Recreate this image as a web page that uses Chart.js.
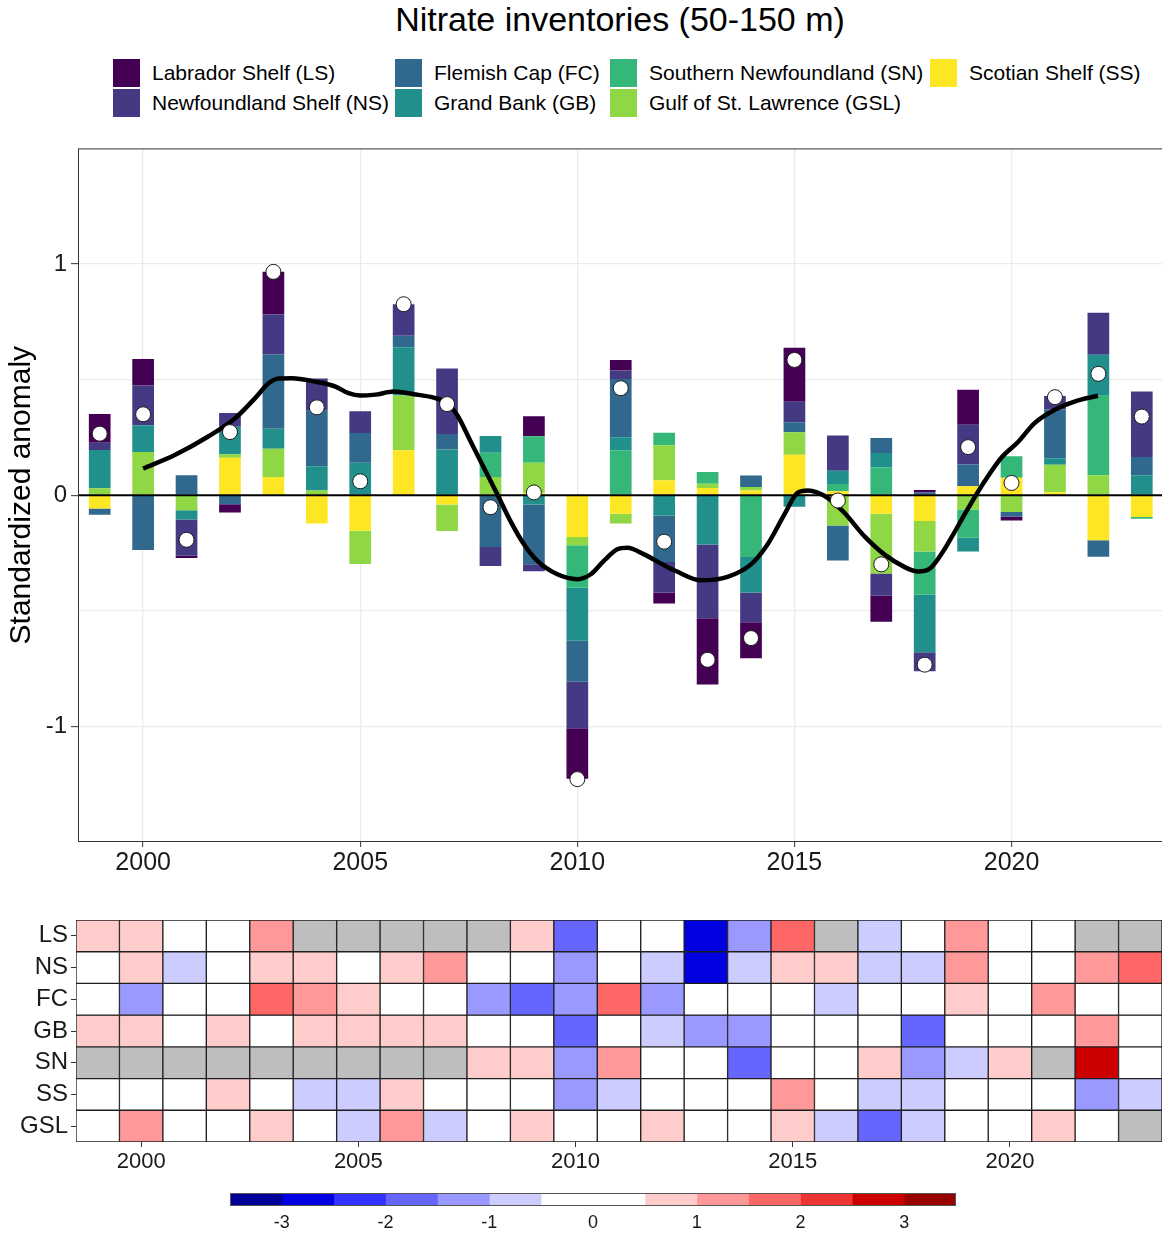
<!DOCTYPE html>
<html>
<head>
<meta charset="utf-8">
<title>Nitrate inventories (50-150 m)</title>
<script src="https://cdn.jsdelivr.net/npm/chart.js@4.4.1/dist/chart.umd.min.js"></script>
<style>
  html, body { margin: 0; padding: 0; background: #fff; }
  body { width: 1162px; height: 1236px; position: relative; overflow: hidden;
         font-family: "Liberation Sans", Arial, sans-serif; color: #000; }
  #title { position: absolute; left: 0; top: 0; width: 1240px; text-align: center;
           font-size: 34px; line-height: 38px; }
  .lg { position: absolute; height: 28px; display: flex; align-items: center;
        font-size: 21px; white-space: nowrap; }
  .lg i { display: inline-block; width: 27px; height: 28px; margin-right: 12px; }
  canvas { position: absolute; left: 0; }
  #barChart { top: 130px; }
  #heatChart { top: 900px; }
  #scaleBar { top: 1185px; }
</style>
</head>
<body>
<div id="title">Nitrate inventories (50-150 m)</div>
<div id="legend"></div>
<canvas id="barChart" width="1172" height="750"></canvas>
<canvas id="heatChart" width="1162" height="280"></canvas>
<canvas id="scaleBar" width="1162" height="50"></canvas>

<script>
// ---- data -------------------------------------------------------------
const years = [1999, 2000, 2001, 2002, 2003, 2004, 2005, 2006, 2007, 2008, 2009, 2010,
               2011, 2012, 2013, 2014, 2015, 2016, 2017, 2018, 2019, 2020, 2021, 2022, 2023];

const regionCodes = ['LS', 'NS', 'FC', 'GB', 'SN', 'GSL', 'SS'];
const regionNames = ['Labrador Shelf (LS)', 'Newfoundland Shelf (NS)', 'Flemish Cap (FC)',
                     'Grand Bank (GB)', 'Southern Newfoundland (SN)',
                     'Gulf of St. Lawrence (GSL)', 'Scotian Shelf (SS)'];
const regionColors = ['#440154', '#443A83', '#31688E', '#21908C', '#35B779', '#8FD744', '#FDE725'];

// contribution of each region to the composite anomaly
const contribLS  = [0.124, 0.114, -0.010, -0.036, 0.184, 0, 0, 0, 0, 0, 0.086, -0.218,
                    0.046, -0.047, -0.287, -0.155, 0.234, 0, -0.112, 0.010, 0.151, -0.017, 0, 0, 0];
const contribNS  = [0.031, 0.172, -0.157, 0.060, 0.172, 0.140, 0.094, 0.136, 0.283, -0.082, -0.030, -0.201,
                    0.036, -0.132, -0.319, -0.129, 0.089, 0.152, -0.096, -0.082, 0.172, 0, 0.058, 0.182, 0.283];
const contribFC  = [-0.027, -0.237, 0.086, -0.039, 0.323, 0.240, 0.129, 0.050, 0.067, -0.224, -0.259, -0.177,
                    0.252, -0.201, 0, 0.049, 0.043, -0.151, 0.065, 0.012, 0.094, -0.019, 0.211, -0.071, 0.079];
const contribGB  = [0.166, 0.116, -0.040, 0.119, 0.086, 0.105, 0.140, 0.209, 0.198, 0.072, -0.040, -0.230,
                    0.057, -0.088, -0.213, -0.154, -0.050, 0.058, 0.062, -0.248, -0.060, 0, 0.028, 0.177, 0.086];
const contribSN  = [0, 0, 0, 0, 0, 0, 0, 0, 0, 0.105, 0.115, -0.183,
                    0.194, 0.054, 0.050, -0.267, 0, 0.031, 0.120, -0.187, -0.122, 0.093, 0, 0.344, -0.008];
const contribGSL = [0.030, 0.187, -0.065, 0.015, 0.122, 0.020, -0.144, 0.237, -0.115, 0.079, 0.130, -0.036,
                    -0.042, 0.151, 0.019, 0.016, 0.097, -0.131, -0.259, -0.132, -0.062, -0.073, 0.119, 0.086, 0];
const contribSS  = [-0.058, 0, 0, 0.162, 0.079, -0.122, -0.154, 0.194, -0.040, 0, 0.010, -0.181,
                    -0.080, 0.065, 0.031, 0.020, 0.175, 0.017, -0.080, -0.112, 0.039, 0.075, 0.013, -0.195, -0.094];

// composite index (white markers)
const compositeIndex = [0.266, 0.350, -0.193, 0.273, 0.966, 0.380, 0.060, 0.826, 0.394, -0.052, 0.012, -1.228,
                        0.463, -0.201, -0.712, -0.618, 0.585, -0.023, -0.299, -0.733, 0.208, 0.053, 0.424, 0.525, 0.340];

// smoothed trend of the composite index
const trendYears  = [2000.0, 2000.74, 2001.5, 2002.12, 2002.58, 2002.89, 2003.12, 2003.43, 2003.97, 2004.43,
                     2004.73, 2005.0, 2005.35, 2005.77, 2006.23, 2006.69, 2007.0, 2007.23, 2007.54, 2007.85,
                     2008.16, 2008.46, 2008.77, 2009.08, 2009.54, 2010.0, 2010.31, 2010.61, 2010.92, 2011.15,
                     2011.54, 2012.0, 2012.27, 2012.85, 2013.46, 2014.0, 2014.38, 2014.77, 2015.07, 2015.31,
                     2015.77, 2016.15, 2016.61, 2017.07, 2017.53, 2017.85, 2018.1, 2018.4, 2018.61, 2018.99,
                     2019.38, 2019.76, 2020.15, 2020.53, 2020.99, 2021.45, 2021.99];
const trendValues = [0.115, 0.175, 0.254, 0.333, 0.420, 0.484, 0.505, 0.506, 0.491, 0.470,
                     0.441, 0.431, 0.435, 0.448, 0.437, 0.422, 0.398, 0.348, 0.233, 0.118,
                     0.003, -0.112, -0.212, -0.284, -0.342, -0.363, -0.342, -0.284, -0.234, -0.227,
                     -0.256, -0.303, -0.328, -0.368, -0.353, -0.299, -0.213, -0.083, 0.010, 0.020,
                     -0.012, -0.076, -0.177, -0.256, -0.310, -0.330, -0.320, -0.250, -0.185, -0.060,
                     0.060, 0.161, 0.230, 0.312, 0.369, 0.405, 0.430];

// standardized anomalies per region (null = no data)
const heatCodes = ['LS', 'NS', 'FC', 'GB', 'SN', 'SS', 'GSL'];
const anomLS  = [0.7, 0.6, -0.1, -0.3, 1.2, null, null, null, null, null, 0.6, -1.7,
                 0.3, -0.3, -2.7, -1.3, 1.8, null, -0.8, 0.1, 1.1, -0.2, 0.0, null, null];
const anomNS  = [0.2, 0.8, -0.8, 0.3, 0.9, 0.7, 0.4, 0.7, 1.3, -0.4, -0.2, -1.2,
                 0.2, -0.7, -2.6, -0.7, 0.6, 0.8, -0.6, -0.6, 1.1, 0.0, 0.3, 1.2, 1.6];
const anomFC  = [-0.2, -1.3, 0.4, -0.2, 1.7, 1.3, 0.7, 0.3, 0.4, -1.2, -1.6, -1.1,
                 1.6, -1.1, 0.0, 0.3, 0.3, -0.7, 0.3, 0.1, 0.6, -0.1, 1.2, -0.4, 0.4];
const anomGB  = [0.8, 0.6, -0.2, 0.6, 0.4, 0.5, 0.7, 0.9, 0.8, 0.3, -0.2, -1.6,
                 0.3, -0.6, -1.4, -1.1, -0.3, 0.3, 0.3, -1.8, -0.3, 0.0, 0.1, 1.1, 0.4];
const anomSN  = [null, null, null, null, null, null, null, null, null, 0.6, 0.7, -1.1,
                 1.2, 0.3, 0.3, -1.7, 0.0, 0.2, 0.7, -1.2, -0.7, 0.6, null, 2.7, -0.1];
const anomSS  = [-0.3, 0.0, 0.0, 0.9, 0.4, -0.7, -0.8, 0.8, -0.2, 0.0, 0.1, -1.2,
                 -0.6, 0.4, 0.2, 0.1, 1.1, 0.1, -0.6, -0.7, 0.2, 0.4, 0.1, -1.2, -0.6];
const anomGSL = [0.2, 1.2, -0.4, 0.1, 0.8, 0.1, -0.9, 1.3, -0.7, 0.4, 0.8, -0.2,
                 -0.3, 0.9, 0.1, 0.1, 0.6, -0.8, -1.8, -0.8, -0.4, -0.4, 0.7, 0.4, null];

// colour scale of the anomaly table
const scaleEdges  = [-3.5, -3, -2.5, -2, -1.5, -1, -0.5, 0, 0.5, 1, 1.5, 2, 2.5, 3, 3.5];
const scaleColors = ['#000099', '#0000E0', '#3333FF', '#6666FF', '#9999FF', '#CCCCFF', '#FFFFFF',
                     '#FFFFFF', '#FFCCCC', '#FF9999', '#FF6666', '#EE3333', '#CC0000', '#990000'];
const scaleTicks  = [-3, -2, -1, 0, 1, 2, 3];
const missingColor = '#BEBEBE';

// axis ticks
const yTickValues = [-1.5, -1, -0.5, 0, 0.5, 1, 1.5];
const xTickValues = [2000, 2005, 2010, 2015, 2020];

// ---- shared settings ----------------------------------------------------
Chart.defaults.font.family = '"Liberation Sans", Arial, sans-serif';
Chart.defaults.color = '#1a1a1a';
const clear = 'rgba(0,0,0,0)';
const tickInk = '#333333';
const gridInk = '#EBEBEB';

// ---- legend -------------------------------------------------------------
(function buildLegend() {
  const colLeft = [113, 395, 610, 930];
  const rowTop = [59, 89];
  const box = document.getElementById('legend');
  regionCodes.forEach((code, i) => {
    const el = document.createElement('div');
    el.className = 'lg';
    el.style.left = colLeft[Math.floor(i / 2)] + 'px';
    el.style.top = rowTop[i % 2] + 'px';
    const key = document.createElement('i');
    key.style.background = regionColors[i];
    el.appendChild(key);
    el.appendChild(document.createTextNode(regionNames[i]));
    box.appendChild(el);
  });
})();

// ---- stacked bar chart --------------------------------------------------
const contrib = { LS: contribLS, NS: contribNS, FC: contribFC, GB: contribGB,
                  SN: contribSN, GSL: contribGSL, SS: contribSS };
// stacking goes outward from zero: SS closest, LS outermost
const stackOrder = ['SS', 'GSL', 'SN', 'GB', 'FC', 'NS', 'LS'];

const barSets = stackOrder.map(code => {
  const i = regionCodes.indexOf(code);
  return {
    type: 'bar',
    label: regionNames[i],
    data: years.map((yr, k) => ({ x: yr, y: contrib[code][k] })),
    backgroundColor: regionColors[i],
    borderWidth: 0,
    stack: 'regions',
    order: 10,
    barPercentage: 0.5,
    categoryPercentage: 1.0
  };
});

const trendSet = {
  type: 'line',
  label: 'trend',
  data: trendYears.map((x, k) => ({ x: x, y: trendValues[k] })),
  borderColor: '#000',
  borderWidth: 4.5,
  pointRadius: 0,
  tension: 0.4,
  cubicInterpolationMode: 'monotone',
  stack: 'trend',
  order: 1
};

const indexSet = {
  type: 'line',
  label: 'composite',
  data: years.map((x, k) => ({ x: x, y: compositeIndex[k] })),
  showLine: false,
  pointRadius: 7.5,
  pointHoverRadius: 7.5,
  pointBackgroundColor: '#fff',
  pointBorderColor: '#1a1a1a',
  pointBorderWidth: 1,
  stack: 'composite',
  order: 0
};

// black reference line at zero, laid over the bars but under the trend
const zeroLine = {
  id: 'zeroLine',
  beforeDatasetDraw(chart, args) {
    if (chart.data.datasets[args.index].stack !== 'trend') return;
    const { ctx, chartArea } = chart;
    const y0 = chart.scales.y.getPixelForValue(0);
    ctx.save();
    ctx.strokeStyle = '#000';
    ctx.lineWidth = 2;
    ctx.beginPath();
    ctx.moveTo(chartArea.left, y0);
    ctx.lineTo(chartArea.right, y0);
    ctx.stroke();
    ctx.restore();
  }
};

// frame around a chart area
const panelFrame = {
  id: 'panelFrame',
  afterDraw(chart, args, opts) {
    const { ctx, chartArea } = chart;
    ctx.save();
    ctx.strokeStyle = opts.color || '#333';
    ctx.lineWidth = 1;
    ctx.strokeRect(chartArea.left + 0.5, chartArea.top + 0.5,
                   chartArea.right - chartArea.left - 1, chartArea.bottom - chartArea.top - 1);
    ctx.restore();
  }
};

new Chart(document.getElementById('barChart'), {
  type: 'bar',
  data: { datasets: [...barSets, trendSet, indexSet] },
  plugins: [zeroLine, panelFrame],
  options: {
    responsive: false,
    animation: false,
    events: [],
    layout: { padding: { top: 15, right: 0, bottom: 0, left: 0 } },
    plugins: { legend: { display: false }, tooltip: { enabled: false },
               panelFrame: { color: '#333333' } },
    scales: {
      x: {
        type: 'linear', min: 1998.5, max: 2023.5, stacked: true, offset: false,
        afterBuildTicks: s => { s.ticks = xTickValues.map(v => ({ value: v })); },
        afterFit: s => { s.height = 38; },
        ticks: { callback: v => String(v), font: { size: 25 }, color: '#1a1a1a',
                 padding: 1, maxRotation: 0, autoSkip: false },
        grid: { color: gridInk, lineWidth: 1.3, offset: false, tickLength: 5,
                tickColor: tickInk, tickWidth: 1 },
        border: { display: false }
      },
      y: {
        type: 'linear', min: -1.5, max: 1.5, stacked: true,
        afterBuildTicks: s => { s.ticks = yTickValues.map(v => ({ value: v })); },
        afterFit: s => { s.width = 78; },
        ticks: { callback: v => (Number.isInteger(v) ? String(v) : ''),
                 font: { size: 24 }, color: '#1a1a1a', padding: 4 },
        grid: {
          color: c => (Math.abs(c.tick.value) === 1.5 ? clear : gridInk),
          lineWidth: 1.3, tickLength: 7,
          tickColor: c => (Number.isInteger(c.tick.value) ? tickInk : clear),
          tickWidth: 1
        },
        border: { display: false },
        title: { display: true, text: 'Standardized anomaly', color: '#000',
                 font: { size: 30 }, padding: { top: 4, bottom: 4 } }
      }
    }
  }
});

// ---- anomaly table ------------------------------------------------------
function anomalyColor(v) {
  if (v === null || v === undefined) return missingColor;
  let k = Math.floor((v - scaleEdges[0]) / 0.5);
  k = Math.max(0, Math.min(scaleColors.length - 1, k));
  return scaleColors[k];
}
const anomRows = [anomLS, anomNS, anomFC, anomGB, anomSN, anomSS, anomGSL];

new Chart(document.getElementById('heatChart'), {
  type: 'bar',
  data: {
    labels: years.map(String),
    datasets: heatCodes.map((code, r) => ({
      label: code,
      data: years.map(() => [r, r + 1]),
      backgroundColor: anomRows[r].map(anomalyColor),
      borderColor: '#1e1e1e',
      borderWidth: 1,
      borderSkipped: false,
      grouped: false,
      barPercentage: 1.0,
      categoryPercentage: 1.0
    }))
  },
  options: {
    responsive: false,
    animation: false,
    events: [],
    layout: { padding: { top: 20, right: 0, bottom: 0, left: 0 } },
    plugins: { legend: { display: false }, tooltip: { enabled: false } },
    scales: {
      x: {
        type: 'category', offset: true,
        afterFit: s => { s.height = 38; },
        ticks: { callback: (v, i) => (years[i] % 5 === 0 ? String(years[i]) : ''),
                 autoSkip: false, maxRotation: 0, font: { size: 22 }, color: '#1a1a1a', padding: 2 },
        grid: { display: true, drawOnChartArea: false, offset: false, tickLength: 5,
                tickColor: c => (years[c.index] % 5 === 0 ? tickInk : clear) },
        border: { display: false }
      },
      y: {
        type: 'linear', min: 0, max: heatCodes.length, reverse: true,
        afterBuildTicks: s => { s.ticks = heatCodes.map((c, i) => ({ value: i + 0.5 })); },
        afterFit: s => { s.width = 76; },
        ticks: { callback: (v, i) => heatCodes[i], font: { size: 24 }, color: '#1a1a1a', padding: 3 },
        grid: { display: true, drawOnChartArea: false, tickLength: 5, tickColor: tickInk },
        border: { display: false }
      }
    }
  }
});

// ---- colour scale bar ---------------------------------------------------
new Chart(document.getElementById('scaleBar'), {
  type: 'bar',
  data: {
    labels: [''],
    datasets: scaleColors.map((c, i) => ({
      data: [[scaleEdges[i], scaleEdges[i + 1]]],
      backgroundColor: c,
      borderWidth: 0,
      grouped: false,
      barPercentage: 1.0,
      categoryPercentage: 1.0
    }))
  },
  plugins: [panelFrame],
  options: {
    indexAxis: 'y',
    responsive: false,
    animation: false,
    events: [],
    layout: { padding: { top: 8, right: 206, bottom: 0, left: 230 } },
    plugins: { legend: { display: false }, tooltip: { enabled: false },
               panelFrame: { color: '#555555' } },
    scales: {
      x: {
        type: 'linear', min: scaleEdges[0], max: scaleEdges[scaleEdges.length - 1],
        afterBuildTicks: s => { s.ticks = scaleTicks.map(v => ({ value: v })); },
        afterFit: s => { s.height = 29; },
        ticks: { callback: v => String(v), font: { size: 18 }, color: '#1a1a1a', padding: 6 },
        grid: { display: false, drawTicks: false },
        border: { display: false }
      },
      y: { type: 'category', display: false }
    }
  }
});
</script>
</body>
</html>
